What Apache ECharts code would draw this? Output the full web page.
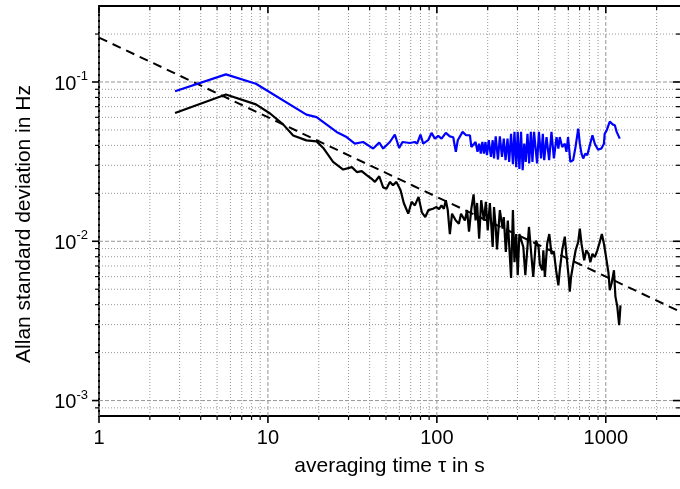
<!DOCTYPE html>
<html>
<head>
<meta charset="utf-8">
<script src="https://cdn.jsdelivr.net/npm/echarts@6/dist/echarts.min.js"></script>
<style>
  html, body { margin: 0; padding: 0; background: #fff; }
  #chart { width: 680px; height: 489px; }
</style>
</head>
<body>
<div id="chart"></div>
<script>
// axis ranges and tick values
var xMin = 1, xMax = 2750, yMin = 0.0008, yMax = 0.3;
var xMajor = [1, 10, 100, 1000];
var xMinor = [2, 3, 4, 5, 6, 7, 8, 9, 20, 30, 40, 50, 60, 70, 80, 90,
              200, 300, 400, 500, 600, 700, 800, 900, 2000];
var yMajor = [0.001, 0.01, 0.1];
var yMinor = [0.0009, 0.002, 0.003, 0.004, 0.005, 0.006, 0.007, 0.008, 0.009,
              0.02, 0.03, 0.04, 0.05, 0.06, 0.07, 0.08, 0.09, 0.2];

// blue curve
var blueTau = [2.82, 5.64, 8.49, 16.9, 19.4, 25.5, 29.2, 32.7, 36.6, 42.0, 45.6, 48.1, 52.7, 56.4, 59.8, 62.6,
  69.2, 74.1, 76.4, 80.0, 83.0, 88.8, 93.0, 97.3, 101.8, 106.6, 113, 119.4, 125, 129.5, 133, 142, 149, 157,
  160, 164, 169.5, 174, 178, 182, 186, 190, 194, 198, 203, 209, 214, 218, 223, 230, 236, 243, 249, 255,
  262, 268, 275, 282, 288, 295, 301, 308, 315, 322, 329, 336, 344, 352, 360, 368, 376, 392, 402, 414,
  424, 432, 446, 462, 477, 493, 511, 524, 534, 552, 572, 585, 598, 617, 641, 662, 687, 702, 718, 735,
  756, 777, 804, 834, 861, 900, 942, 975, 985, 1012, 1037, 1056, 1096, 1131, 1160, 1210];
var blueSigma = [0.0874, 0.1117, 0.0975, 0.0624, 0.0602, 0.0486, 0.0451, 0.0410, 0.0420, 0.0382, 0.0417, 0.0382,
  0.0420, 0.0468, 0.0385, 0.0420, 0.0414, 0.0420, 0.0410, 0.0468, 0.0410, 0.0431, 0.0479, 0.0441, 0.0459,
  0.0441, 0.0479, 0.0456, 0.0450, 0.0364, 0.0431, 0.0486, 0.0463, 0.0463, 0.0391, 0.0382, 0.0420, 0.0364,
  0.0410, 0.0355, 0.0420, 0.0355, 0.0420, 0.0347, 0.0431, 0.0339, 0.0431, 0.0331, 0.0456, 0.0326, 0.0456,
  0.0339, 0.0441, 0.0323, 0.0441, 0.0315, 0.0473, 0.0305, 0.0486, 0.0292, 0.0486, 0.0285, 0.0486, 0.0279,
  0.0410, 0.0315, 0.0473, 0.0308, 0.0486, 0.0315, 0.0486, 0.0308, 0.0486, 0.0331, 0.0473, 0.0323, 0.0451,
  0.0323, 0.0486, 0.0331, 0.0451, 0.0382, 0.0451, 0.0391, 0.0410, 0.0364, 0.0451, 0.0315, 0.0323, 0.0391,
  0.0509, 0.0410, 0.0355, 0.0331, 0.0355, 0.0347, 0.0400, 0.0463, 0.0410, 0.0376, 0.0382, 0.0410, 0.0473,
  0.0497, 0.0535, 0.0565, 0.0542, 0.0535, 0.0486, 0.0441];

// black curve
var blackTau = [2.82, 5.64, 8.49, 10.3, 12.3, 14.1, 16.9, 19.4, 21.2, 24.3, 27.9, 31.4, 33.6, 35.9, 38.4, 41.1,
  43.0, 45.6, 48.1, 50.3, 52.7, 55.0, 57.6, 61.0, 63.7, 67.7, 70.9, 74.1, 77.9, 81.5, 85.4, 89.2, 94.8,
  99.5, 103, 106.6, 110, 113, 116, 119.4, 123, 129.5, 135, 139, 146.5, 151, 155, 160, 165, 169.5, 173,
  178, 183, 190, 195, 200, 206, 214, 218, 223, 227, 236, 245, 249, 256, 263, 275, 282, 288, 295, 301,
  308, 325, 334, 351, 362, 372, 386, 400, 407, 421, 427, 436, 450, 463, 477, 493, 508, 524, 534, 552,
  572, 585, 603, 612, 623, 641, 663, 687, 702, 718, 745, 767, 791, 810, 834, 861, 891, 922, 948, 975,
  1000, 1037, 1056, 1082, 1118, 1140, 1170, 1200, 1222];
var blackSigma = [0.0638, 0.0834, 0.0724, 0.0634, 0.0542, 0.0462, 0.0430, 0.0424, 0.0387, 0.0315, 0.0282, 0.0292,
  0.0272, 0.0276, 0.0260, 0.0247, 0.0236, 0.0256, 0.0218, 0.0214, 0.0236, 0.0225, 0.0236, 0.0209, 0.0174,
  0.0149, 0.0177, 0.0168, 0.0190, 0.0152, 0.0142, 0.0157, 0.0160, 0.0164, 0.0159, 0.0168, 0.0160, 0.0181,
  0.0157, 0.0111, 0.0149, 0.0135, 0.0129, 0.0149, 0.0135, 0.0157, 0.0115, 0.0160, 0.0197, 0.0135, 0.0174,
  0.0104, 0.0181, 0.0135, 0.0177, 0.0117, 0.0174, 0.00921, 0.0164, 0.0123, 0.00890, 0.0157, 0.0120, 0.0142,
  0.00857, 0.0135, 0.00588, 0.0157, 0.00740, 0.0111, 0.00612, 0.0111, 0.00921, 0.00612, 0.0123, 0.00834,
  0.00597, 0.0101, 0.00921, 0.00717, 0.00658, 0.00878, 0.00597, 0.00966, 0.0111, 0.00834, 0.00857, 0.00658,
  0.00529, 0.00658, 0.00878, 0.0107, 0.00817, 0.00597, 0.00482, 0.00597, 0.00717, 0.00878, 0.00992, 0.0120,
  0.00966, 0.00760, 0.00878, 0.00834, 0.00740, 0.00834, 0.00796, 0.00878, 0.00992, 0.0111, 0.00966,
  0.00817, 0.00636, 0.00493, 0.00543, 0.00658, 0.00451, 0.00389, 0.00297, 0.00396];

// dashed tau^-1/2 line
var fitTau = [1, 2750];
var fitSigma = [0.19, 0.00362];

function zip(a, b) {
  return a.map(function (v, i) { return [v, b[i]]; });
}

var font = 'Liberation Sans, Arial, sans-serif';

// grid lines + ticks drawn through the axes' scales
function guides(axis, values, major) {
  return {
    type: 'custom',
    coordinateSystem: 'cartesian2d',
    silent: true,
    clip: false,
    z: 1,
    data: values.map(function (v) { return axis == 'x' ? [v, yMin] : [xMin, v]; }),
    renderItem: function (params, api) {
      var a, b;
      var len = major ? 7 : 4;
      var tickStyle = {stroke: '#000', lineWidth: major ? 1.6 : 1.2};
      var gridStyle = {stroke: '#969696', lineWidth: 1, lineDash: major ? [4, 2] : [1, 2]};
      var kids = [];
      if (axis == 'x') {
        var x = api.value(0);
        a = api.coord([x, yMin]);
        b = api.coord([x, yMax]);
        kids.push({type: 'line', shape: {x1: a[0], y1: a[1], x2: b[0], y2: b[1]}, style: gridStyle});
        kids.push({type: 'line', shape: {x1: a[0], y1: a[1], x2: a[0], y2: a[1] + len}, style: tickStyle});
        kids.push({type: 'line', shape: {x1: b[0], y1: b[1], x2: b[0], y2: b[1] + len}, style: tickStyle});
      } else {
        var y = api.value(1);
        a = api.coord([xMin, y]);
        b = api.coord([xMax, y]);
        kids.push({type: 'line', shape: {x1: a[0], y1: a[1], x2: b[0], y2: b[1]}, style: gridStyle});
        kids.push({type: 'line', shape: {x1: a[0] - len, y1: a[1], x2: a[0], y2: a[1]}, style: tickStyle});
        kids.push({type: 'line', shape: {x1: b[0] - len, y1: b[1], x2: b[0], y2: b[1]}, style: tickStyle});
      }
      return {type: 'group', children: kids};
    }
  };
}

function isDecade(v) {
  var l = Math.log(v) / Math.LN10;
  return Math.abs(l - Math.round(l)) < 1e-6;
}

var chart = echarts.init(document.getElementById('chart'));
var option = {
  backgroundColor: '#fff',
  animation: false,
  grid: {left: 99, right: 0, top: 6, bottom: 73, containLabel: false},
  xAxis: [{
    type: 'log',
    logBase: 10,
    min: xMin,
    max: xMax,
    name: 'averaging time \u03c4 in s',
    nameLocation: 'middle',
    nameGap: 40,
    nameTextStyle: {color: '#000', fontSize: 21, fontFamily: font},
    axisLine: {lineStyle: {color: '#000', width: 2}},
    axisTick: {show: false},
    splitLine: {show: false},
    axisLabel: {
      color: '#000', fontSize: 20, fontFamily: font, margin: 12,
      showMaxLabel: false,
      formatter: function (v) { return isDecade(v) ? String(Math.round(v)) : ''; }
    }
  }, {
    type: 'log',
    logBase: 10,
    min: xMin,
    max: xMax,
    position: 'top',
    axisLine: {lineStyle: {color: '#000', width: 2}},
    axisTick: {show: false},
    axisLabel: {show: false},
    splitLine: {show: false}
  }],
  yAxis: {
    type: 'log',
    logBase: 10,
    min: yMin,
    max: yMax,
    name: 'Allan standard deviation in Hz',
    nameLocation: 'middle',
    nameGap: 64,
    nameTextStyle: {color: '#000', fontSize: 21, fontFamily: font, padding: [0, 26, 0, 0]},
    axisLine: {lineStyle: {color: '#000', width: 2}},
    axisTick: {show: false},
    splitLine: {show: false},
    axisLabel: {
      margin: 11,
      showMaxLabel: false,
      showMinLabel: false,
      formatter: function (v) {
        if (!isDecade(v)) return '';
        var e = Math.round(Math.log(v) / Math.LN10);
        return '{b|10}{s|' + e + '}';
      },
      rich: {
        b: {color: '#000', fontSize: 20, fontFamily: font, lineHeight: 24, verticalAlign: 'bottom'},
        s: {color: '#000', fontSize: 13, fontFamily: font, verticalAlign: 'top'}
      }
    }
  },
  series: [
    guides('x', xMinor, false),
    guides('x', xMajor, true),
    guides('y', yMinor, false),
    guides('y', yMajor, true),
    {
      name: 'fit', type: 'line', data: zip(fitTau, fitSigma), symbol: 'none', z: 3,
      lineStyle: {color: '#000', width: 2, type: [9, 6]}
    },
    {
      name: 'blue', type: 'line', data: zip(blueTau, blueSigma), symbol: 'none', z: 4,
      lineStyle: {color: '#0000ff', width: 2.2}
    },
    {
      name: 'black', type: 'line', data: zip(blackTau, blackSigma), symbol: 'none', z: 4,
      lineStyle: {color: '#000', width: 2.2}
    }
  ]
};
chart.setOption(option);
</script>
</body>
</html>
